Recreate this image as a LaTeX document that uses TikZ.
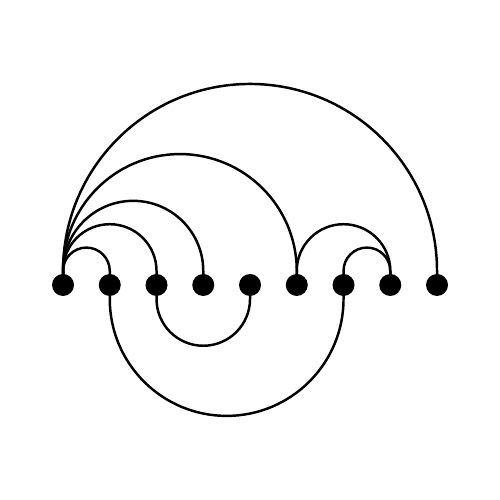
\documentclass[tikz,border=0pt]{standalone}
\usepackage{tikz}
\usetikzlibrary{calc}

\tikzset{
  vtx/.style={circle, fill=black, inner sep=0pt, minimum size=4.7mm},
  % arcs above and below the line of vertices
  hump/.style={to path={let \p1=(\tikztostart), \p2=(\tikztotarget), \n1={0.5*(\x2-\x1)} in
      (\p1) -- ++(0,0.3) arc[start angle=180, end angle=0, radius=\n1] -- (\p2)}},
  dip/.style={to path={let \p1=(\tikztostart), \p2=(\tikztotarget), \n1={0.5*(\x2-\x1)} in
      (\p1) -- ++(0,-0.3) arc[start angle=180, end angle=360, radius=\n1] -- (\p2)}},
}

\begin{document}
\begin{tikzpicture}[line width=1.5pt]
  \useasboundingbox (-1.348,-4.599) rectangle (9.347,6.096);

  % vertices
  \foreach \i in {1,...,9}
    \node[vtx] (v\i) at (\i-1, 0) {};

  % upper arcs
  \draw (v1) to[hump] (v2);
  \draw (v1) to[hump] (v3);
  \draw (v1) to[hump] (v4);
  \draw (v1) to[hump] (v6);
  \draw (v1) to[hump] (v9);
  \draw (v6) to[hump] (v8);
  \draw (v7) to[hump] (v8);

  % lower arcs
  \draw (v3) to[dip] (v5);
  \draw (v2) to[dip] (v7);
\end{tikzpicture}
\end{document}
